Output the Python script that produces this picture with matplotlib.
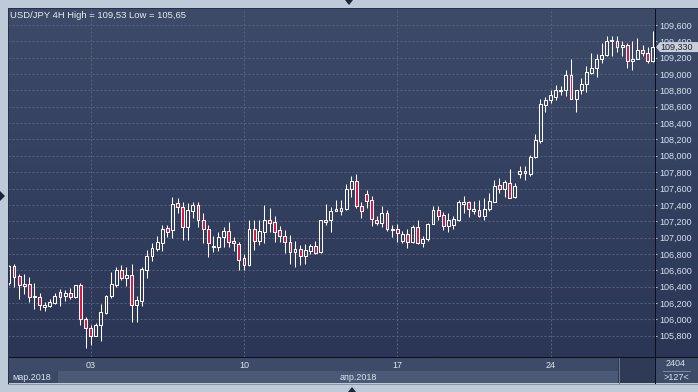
import numpy as np
import matplotlib
matplotlib.use("Agg")
import matplotlib.pyplot as plt
from matplotlib.patches import Rectangle, Polygon
from matplotlib.lines import Line2D
from matplotlib.colors import LinearSegmentedColormap

plt.rcParams.update({"font.family": ["Liberation Sans", "DejaVu Sans"], "font.size": 6.5})

# USD/JPY 4H, 127 bars
opens = [106.45, 106.65, 106.53, 106.41, 106.43, 106.27, 106.27, 106.15, 106.16, 106.20,
         106.33, 106.28, 106.32, 106.27, 106.42, 106.00, 105.89, 105.80, 105.93, 106.08,
         106.28, 106.42, 106.60, 106.51, 106.54, 106.18, 106.23, 106.60, 106.77, 106.86,
         106.93, 107.12, 107.09, 107.42, 107.37, 107.13, 107.33, 107.40, 107.22, 107.10,
         106.88, 106.88, 107.01, 107.08, 106.96, 106.92, 106.75, 106.66, 107.10, 106.96,
         107.07, 107.21, 107.19, 107.09, 107.02, 106.95, 106.82, 106.86, 106.78, 106.84,
         106.90, 106.82, 107.22, 107.21, 107.33, 107.32, 107.35, 107.60, 107.69, 107.39,
         107.53, 107.46, 107.22, 107.18, 107.30, 107.09, 107.11, 106.96, 107.04, 106.95,
         107.13, 106.93, 106.98, 107.17, 107.34, 107.28, 107.14, 107.15, 107.22, 107.41,
         107.43, 107.33, 107.34, 107.26, 107.35, 107.44, 107.64, 107.60, 107.67, 107.50,
         107.78, 107.79, 107.78, 107.98, 108.18, 108.62, 108.68, 108.72, 108.79, 108.81,
         108.99, 108.70, 108.80, 108.88, 109.01, 109.07, 109.19, 109.23, 109.40, 109.41,
         109.33, 109.36, 109.16, 109.19, 109.29, 109.26, 109.16]
highs = [106.67, 106.68, 106.56, 106.56, 106.52, 106.44, 106.32, 106.21, 106.25, 106.32,
         106.37, 106.36, 106.38, 106.42, 106.44, 106.03, 105.93, 105.95, 106.19, 106.30,
         106.58, 106.64, 106.67, 106.64, 106.68, 106.28, 106.64, 106.85, 106.93, 107.02,
         107.15, 107.15, 107.50, 107.49, 107.43, 107.42, 107.44, 107.44, 107.30, 107.15,
         107.02, 107.07, 107.13, 107.19, 107.01, 106.95, 106.80, 107.22, 107.21, 107.21,
         107.40, 107.36, 107.26, 107.14, 107.09, 107.03, 106.96, 106.91, 106.92, 106.92,
         106.96, 107.22, 107.41, 107.37, 107.46, 107.46, 107.66, 107.75, 107.78, 107.44,
         107.58, 107.51, 107.26, 107.38, 107.34, 107.15, 107.17, 107.08, 107.11, 107.15,
         107.21, 107.02, 107.18, 107.38, 107.38, 107.31, 107.30, 107.26, 107.46, 107.51,
         107.45, 107.45, 107.46, 107.49, 107.54, 107.71, 107.73, 107.70, 107.84, 107.67,
         107.88, 107.88, 108.01, 108.27, 108.70, 108.72, 108.80, 108.87, 108.85, 109.05,
         109.18, 108.81, 108.95, 109.10, 109.26, 109.25, 109.38, 109.47, 109.47, 109.46,
         109.40, 109.38, 109.40, 109.44, 109.36, 109.33, 109.53]
lows = [106.42, 106.40, 106.25, 106.31, 106.21, 106.13, 106.12, 106.10, 106.15, 106.19,
        106.16, 106.22, 106.25, 106.26, 105.93, 105.65, 105.68, 105.79, 105.74, 106.07,
        106.26, 106.40, 106.48, 106.41, 105.97, 105.97, 106.16, 106.50, 106.71, 106.83,
        106.83, 107.01, 106.99, 107.30, 106.97, 106.97, 107.24, 107.13, 106.93, 106.76,
        106.82, 106.83, 106.89, 106.89, 106.83, 106.60, 106.60, 106.65, 106.85, 106.91,
        106.93, 107.07, 106.95, 106.95, 106.81, 106.68, 106.64, 106.67, 106.68, 106.80,
        106.80, 106.81, 107.15, 107.07, 107.32, 107.28, 107.34, 107.50, 107.36, 107.24,
        107.36, 107.14, 107.15, 107.13, 107.08, 107.01, 106.95, 106.93, 106.87, 106.93,
        106.92, 106.88, 106.96, 107.17, 107.22, 107.09, 107.07, 107.11, 107.20, 107.30,
        107.25, 107.29, 107.25, 107.22, 107.33, 107.43, 107.54, 107.50, 107.48, 107.49,
        107.73, 107.71, 107.75, 107.97, 108.16, 108.53, 108.64, 108.68, 108.74, 108.73,
        108.70, 108.53, 108.76, 108.78, 109.00, 108.97, 109.14, 109.22, 109.22, 109.27,
        109.22, 109.08, 109.05, 109.18, 109.22, 109.13, 109.15]
closes = [106.65, 106.52, 106.42, 106.43, 106.27, 106.29, 106.17, 106.18, 106.21, 106.29,
          106.27, 106.32, 106.27, 106.42, 106.00, 105.89, 105.80, 105.93, 106.09, 106.29,
          106.43, 106.60, 106.51, 106.54, 106.18, 106.24, 106.61, 106.78, 106.87, 106.94,
          107.11, 107.07, 107.41, 107.37, 107.13, 107.34, 107.40, 107.22, 107.10, 106.93,
          106.90, 107.01, 107.08, 106.95, 106.93, 106.73, 106.67, 107.10, 106.96, 107.08,
          107.21, 107.18, 107.07, 107.02, 106.94, 106.82, 106.86, 106.78, 106.85, 106.90,
          106.81, 107.22, 107.19, 107.32, 107.35, 107.36, 107.60, 107.69, 107.39, 107.33,
          107.45, 107.23, 107.18, 107.30, 107.10, 107.11, 107.05, 107.04, 106.95, 107.13,
          106.93, 106.98, 107.17, 107.34, 107.26, 107.14, 107.22, 107.23, 107.43, 107.43,
          107.35, 107.35, 107.26, 107.35, 107.45, 107.63, 107.60, 107.68, 107.49, 107.63,
          107.81, 107.81, 107.99, 108.19, 108.63, 108.68, 108.74, 108.81, 108.81, 108.99,
          108.70, 108.80, 108.88, 109.03, 109.07, 109.18, 109.23, 109.41, 109.42, 109.33,
          109.36, 109.16, 109.19, 109.29, 109.26, 109.16, 109.33]

price_ticks = [105.8, 106.0, 106.2, 106.4, 106.6, 106.8, 107.0, 107.2, 107.4,
               107.6, 107.8, 108.0, 108.2, 108.4, 108.6, 108.8, 109.0, 109.2, 109.4, 109.6]
day_ticks = [16, 46, 76, 106]
day_labels = ["03", "10", "17", "24"]
last_price = 109.330
title = "USD/JPY 4H High = 109,53 Low = 105,65"

RED = "#e0143c"
GRID = "#56637f"
W, H = 698, 392

fig = plt.figure(figsize=(W / 100, H / 100), dpi=100, facecolor="#bfcad9")
fx = lambda px: px / W
fy = lambda py: 1 - py / H

def box(x0, y0, x1, y1, color, z=-5, **kw):
    fig.patches.append(Rectangle((fx(x0), fy(y1)), fx(x1) - fx(x0), fy(y0) - fy(y1),
                                 transform=fig.transFigure, facecolor=color,
                                 edgecolor=kw.pop("ec", "none"), zorder=z, **kw))

def tri(pts, color="#1c2538"):
    fig.patches.append(Polygon([(fx(a), fy(b)) for a, b in pts], closed=True,
                               transform=fig.transFigure, facecolor=color,
                               edgecolor="none", zorder=5))

def hline(x0, x1, y, color, lw=0.72, z=6):
    fig.lines.append(Line2D([fx(x0), fx(x1)], [fy(y), fy(y)], transform=fig.transFigure,
                            color=color, lw=lw, zorder=z))

def vline(x, y0, y1, color, lw=0.72, z=6):
    fig.lines.append(Line2D([fx(x), fx(x)], [fy(y0), fy(y1)], transform=fig.transFigure,
                            color=color, lw=lw, zorder=z))

# gradient background behind plot + price scale
bg = fig.add_axes([fx(8), fy(357), fx(698) - fx(8), fy(8) - fy(357)], zorder=-1)
cmap = LinearSegmentedColormap.from_list("bg", ["#2b3656", "#3d4a68"])
bg.imshow(np.linspace(0, 1, 256)[::-1, None], aspect="auto", cmap=cmap,
          extent=[0, 1, 0, 1])
bg.set_axis_off()

# bottom time bar
box(8, 357, 655, 371, "#3d4a68")
box(8, 371, 655, 383, "#4b5977")
box(8, 371, 58, 383, "#3b4866")
box(618, 357, 655, 383, "#2e3a56")
vline(618.5, 358, 383, "#6b7791", lw=0.7)
box(655, 357, 698, 383, "#3e4b69")
hline(663, 690, 371, "#8793a8", lw=0.6)
fig.text(fx(676), fy(364), "2404", ha="center", va="center", color="#d9e3ef", fontsize=6.5)
fig.text(fx(676), fy(377.5), ">127<", ha="center", va="center", color="#d9e3ef", fontsize=6.5)
fig.text(fx(12), fy(377), "мар.2018", ha="left", va="center", color="#d9e3ef", fontsize=6.5)
fig.text(fx(340), fy(377), "апр.2018", ha="left", va="center", color="#d9e3ef", fontsize=6.5)

# frame lines
hline(8, 698, 357, "#0b111c")
vline(655, 8, 383, "#0b111c")
vline(7.6, 7.5, 383.5, "#27304a")
hline(7.6, 698, 7.6, "#27304a")
hline(7.6, 698, 383.5, "#8a97ab")

tri([(345, 0), (353, 0), (349, 5)])
tri([(0, 191), (0, 201), (5, 196)])
tri([(348, 392), (356, 392), (352, 387)])

# candles
ax = fig.add_axes([fx(8), fy(357), fx(655) - fx(8), fy(8) - fy(357)])
ax.patch.set_alpha(0)
o, h, l, c = map(np.array, (opens, highs, lows, closes))
x = np.arange(len(o))
up = c >= o
top = np.maximum(o, c)
bot = np.minimum(o, c)
ax.vlines(x, top, h, color="white", lw=0.75, zorder=2)
ax.vlines(x, l, bot, color="white", lw=0.75, zorder=2)
ax.bar(x[up], (top - bot)[up], bottom=bot[up], width=0.56, facecolor="none",
       edgecolor="white", linewidth=0.75, zorder=3)
ax.bar(x[~up], (top - bot)[~up], bottom=bot[~up], width=0.56, facecolor=RED,
       edgecolor="white", linewidth=0.75, zorder=3)

for p in price_ticks:
    ax.axhline(p, color=GRID, lw=0.72, ls=(0, (2, 2)), zorder=1)
for d in day_ticks:
    ax.axvline(d, color=GRID, lw=0.72, ls=(0, (2, 2)), zorder=1)

ax.set_xlim(-0.176, 126.44)
ax.set_ylim(105.539, 109.808)
for s in ax.spines.values():
    s.set_visible(False)
ax.yaxis.tick_right()
ax.set_yticks(price_ticks)
ax.set_yticklabels([f"{p:.3f}".replace(".", ",") for p in price_ticks])
ax.tick_params(axis="y", length=1.5, width=0.7, color="#c0cce0", pad=1.5,
               labelcolor="#d6e2f0", labelsize=6.5)
ax.set_xticks(day_ticks)
ax.set_xticklabels(day_labels)
ax.tick_params(axis="x", length=0, pad=3.2, labelcolor="#dde6f0", labelsize=6.5)

fig.text(fx(10), fy(15), title, ha="left", va="center", color="#e6ecf4", fontsize=6.8)

# last price marker
ly = 25 + (109.6 - last_price) * 81.76
fig.patches.append(Polygon([(fx(656), fy(ly)), (fx(660), fy(ly - 5)), (fx(698), fy(ly - 5)),
                            (fx(698), fy(ly + 5)), (fx(660), fy(ly + 5))], closed=True,
                           transform=fig.transFigure, facecolor="#c9cfd8",
                           edgecolor="none", zorder=7))
fig.text(fx(677), fy(ly), "109,330", ha="center", va="center", color="#1b2236",
         fontsize=6.5, zorder=8)

fig.savefig("out.png", dpi=100, facecolor=fig.get_facecolor())
